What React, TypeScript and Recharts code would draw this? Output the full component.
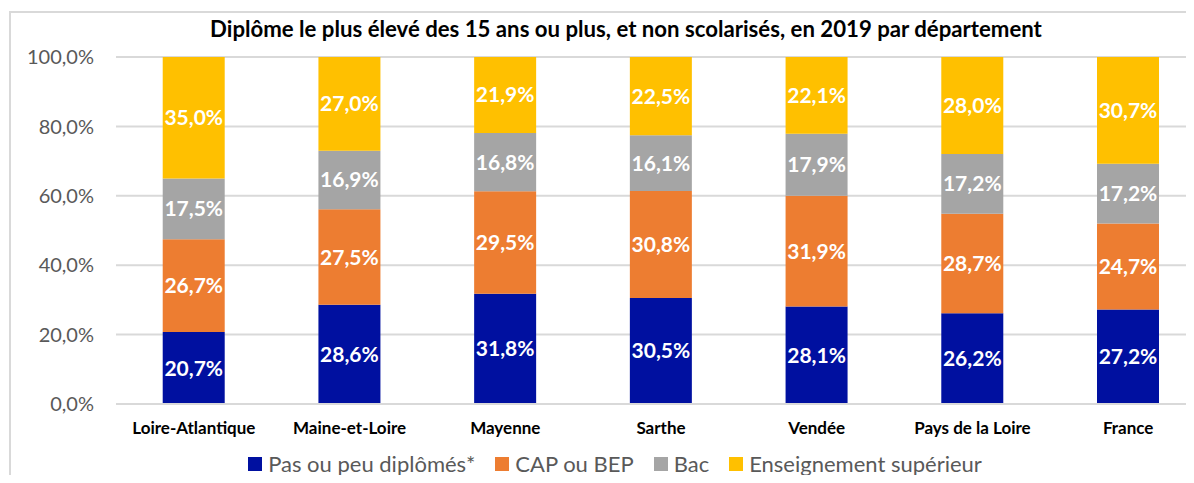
import { Bar, BarChart, CartesianGrid, LabelList, Legend, XAxis, YAxis } from 'recharts'

const departements = ['Loire-Atlantique', 'Maine-et-Loire', 'Mayenne', 'Sarthe', 'Vendée', 'Pays de la Loire', 'France']
const pasOuPeu = [20.7, 28.6, 31.8, 30.5, 28.1, 26.2, 27.2]
const capBep = [26.7, 27.5, 29.5, 30.8, 31.9, 28.7, 24.7]
const bac = [17.5, 16.9, 16.8, 16.1, 17.9, 17.2, 17.2]
const superieur = [35.0, 27.0, 21.9, 22.5, 22.1, 28.0, 30.7]
const yTicks = [0, 0.2, 0.4, 0.6, 0.8, 1]

const SERIES = [
  { key: 'Pas ou peu diplômés*', values: pasOuPeu, color: '#0010A0' },
  { key: 'CAP ou BEP', values: capBep, color: '#ED7D31' },
  { key: 'Bac', values: bac, color: '#A5A5A5' },
  { key: 'Enseignement supérieur', values: superieur, color: '#FFC000' },
]

const data = departements.map((name, i) => {
  const row: Record<string, string | number> = { name }
  SERIES.forEach((s) => {
    row[s.key] = s.values[i]
  })
  return row
})

const FONT = 'Lato, "Open Sans", sans-serif'
const pct = (v: number) => `${v.toFixed(1).replace('.', ',')}%`

function LegendContent() {
  return (
    <div
      style={{
        display: 'flex',
        justifyContent: 'center',
        gap: 20,
        fontFamily: FONT,
        fontSize: 22,
        lineHeight: '28px',
        color: '#595959',
      }}
    >
      {SERIES.map((s) => (
        <div key={s.key} style={{ display: 'flex', alignItems: 'center', gap: 6 }}>
          <span style={{ width: 14, height: 14, background: s.color, display: 'inline-block' }} />
          <span>{s.key}</span>
        </div>
      ))}
    </div>
  )
}

export default function App() {
  return (
    <div style={{ position: 'relative', width: 1194, height: 483, margin: -8, overflow: 'hidden', background: '#fff' }}>
      <div
        style={{
          position: 'absolute',
          left: 9,
          top: 11,
          width: 1240,
          height: 520,
          border: '2px solid #d9d9d9',
          boxSizing: 'border-box',
        }}
      />
      <div
        style={{
          position: 'absolute',
          left: 0,
          width: 1252,
          top: 15,
          textAlign: 'center',
          fontFamily: FONT,
          fontWeight: 700,
          fontSize: 22.2,
          color: '#000',
        }}
      >
        Diplôme le plus élevé des 15 ans ou plus, et non scolarisés, en 2019 par département
      </div>
      <div style={{ position: 'absolute', left: 0, top: 0 }}>
        <BarChart
          width={1230}
          height={483}
          data={data}
          stackOffset="expand"
          barCategoryGap="30%"
          margin={{ top: 57, right: 24, bottom: 21, left: 0 }}
        >
          <CartesianGrid stroke="#d9d9d9" strokeWidth={2} vertical={false} />
          <XAxis
            dataKey="name"
            height={30}
            axisLine={{ stroke: '#d9d9d9', strokeWidth: 2 }}
            tickLine={false}
            interval={0}
            tick={{ fill: '#000', fontSize: 17, fontWeight: 700, fontFamily: FONT }}
            dy={10}
          />
          <YAxis
            width={116}
            ticks={yTicks}
            domain={[0, 1]}
            axisLine={false}
            tickLine={false}
            tickFormatter={(v: number) => pct(v * 100)}
            tick={{ fill: '#595959', fontSize: 20, fontFamily: FONT }}
            dx={-14}
          />
          <Legend
            content={<LegendContent />}
            wrapperStyle={{ position: 'absolute', left: 0, width: 1230, top: 450 }}
          />
          {SERIES.map((s) => (
            <Bar key={s.key} dataKey={s.key} stackId="a" fill={s.color} isAnimationActive={false}>
              <LabelList
                dataKey={s.key}
                position="center"
                formatter={(v: number) => pct(v)}
                fill="#fff"
                style={{ fontSize: 21, fontWeight: 700, fontFamily: FONT }}
              />
            </Bar>
          ))}
        </BarChart>
      </div>
    </div>
  )
}
